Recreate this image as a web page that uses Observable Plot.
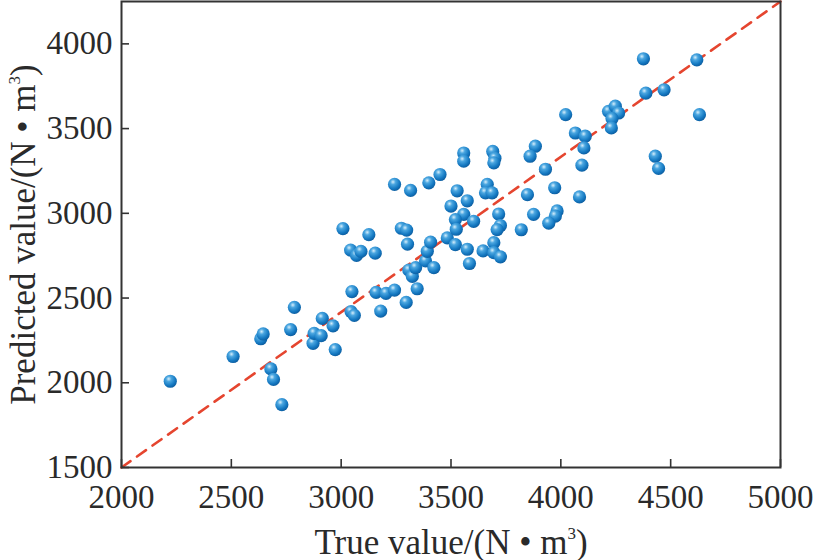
<!DOCTYPE html>
<html>
<head>
<meta charset="utf-8">
<script src="https://cdn.jsdelivr.net/npm/d3@7"></script>
<script src="https://cdn.jsdelivr.net/npm/@observablehq/plot@0.6"></script>
<style>
  html, body { margin: 0; padding: 0; background: #fff; }
  #chart { width: 815px; height: 560px; }
</style>
</head>
<body>
<div id="chart"></div>
<script>
// True values (x) and predicted values (y)
const trueValues = [
  2222, 2508, 2634, 2645, 2680, 2692, 2730, 2770, 2787, 2872,
  2877, 2909, 2914, 2963, 2973, 3008, 3043, 3070, 3090, 3126,
  3155, 3049, 3045, 3060, 3159, 3204, 3243, 3180, 3243, 3316,
  3274, 3298, 3302, 3296, 3346, 3308, 3324, 3339, 3384, 3392,
  3407, 3422, 3399, 3450, 3483, 3520, 3558, 3558, 3528, 3574,
  3500, 3558, 3520, 3603, 3524, 3574, 3584, 3646, 3695, 3695,
  3725, 3665, 3657, 3687, 3690, 3700, 3695, 3717, 3725, 3710,
  3820, 3848, 3876, 3983, 3975, 3945, 3884, 3860, 3930, 3972,
  4022, 4066, 4111, 4105, 4096, 4085, 4217, 4248, 4263, 4233,
  4230, 4376, 4619, 4387, 4470, 4631, 4430, 4445
];
const predictedValues = [
  2009, 2155, 2260, 2288, 2082, 2020, 1871, 2314, 2445, 2233,
  2292, 2278, 2380, 2336, 2196, 2910, 2783, 2752, 2775, 2874,
  2765, 2538, 2420, 2398, 2533, 2528, 2547, 2423, 3171, 3135,
  2912, 2901, 2818, 2474, 2555, 2665, 2628, 2680, 2719, 2776,
  2830, 2680, 3180, 3229, 2855, 2815, 3356, 3308, 3133, 3074,
  3043, 2994, 2963, 2953, 2906, 2788, 2704, 2778, 2827, 2768,
  2743, 3171, 3121, 3121, 3365, 3325, 3298, 2996, 2928, 2904,
  2903, 3110, 2994, 3014, 2984, 2942, 3396, 3337, 3260, 3151,
  3582, 3474, 3455, 3386, 3284, 3097, 3602, 3632, 3592, 3559,
  3504, 3912, 3906, 3709, 3729, 3582, 3337, 3265
];
// Reference (ideal) line endpoints
const refLineX = [2000, 5000];
const refLineY = [1500, 4250];
// Tick values
const xTicks = [2000, 2500, 3000, 3500, 4000, 4500, 5000];
const yTicks = [1500, 2000, 2500, 3000, 3500, 4000];
// Axis titles
const xTitle = "True value/(N • m³)";
const yTitle = "Predicted value/(N • m³)";

const points = trueValues.map((t, i) => ({t, p: predictedValues[i]}));
const refLine = refLineX.map((x, i) => ({x, y: refLineY[i]}));

const font = "'Liberation Serif', 'Times New Roman', serif";

const chart = Plot.plot({
  width: 815,
  height: 560,
  marginLeft: 121,
  marginRight: 35,
  marginTop: 1,
  marginBottom: 93,
  style: {fontFamily: font, color: "#2a2a2a", background: "#fff", overflow: "visible"},
  x: {domain: [2000, 5000]},
  y: {domain: [1500, 4250]},
  marks: [
    Plot.line(refLine, {x: "x", y: "y", stroke: "#e5452f", strokeWidth: 2.6, strokeDasharray: "11,8"}),
    Plot.dot(points, {x: "t", y: "p", r: 6.6, fill: "url(#ball)", stroke: "none"}),
    Plot.frame({stroke: "#333", strokeWidth: 2}),
    Plot.axisX({
      ticks: xTicks, tickFormat: d => String(d), tickSize: -8, tickPadding: 25,
      fontSize: 33, stroke: "#333", strokeWidth: 1.6,
      label: xTitle, labelAnchor: "center", labelOffset: 86, labelArrow: "none"
    }),
    Plot.axisY({
      ticks: yTicks, tickFormat: d => String(d), tickSize: -8, tickPadding: 17,
      fontSize: 33, stroke: "#333", strokeWidth: 1.6,
      label: yTitle, labelAnchor: "center", labelOffset: 111, labelArrow: "none"
    })
  ]
});

d3.select(chart).insert("defs", ":first-child").html(`
  <radialGradient id="ball" cx="0.38" cy="0.32" r="0.72">
    <stop offset="0" stop-color="#d6eefb"/>
    <stop offset="0.28" stop-color="#4aa6e0"/>
    <stop offset="0.7" stop-color="#1579c2"/>
    <stop offset="1" stop-color="#0b5a9c"/>
  </radialGradient>`);

// larger axis titles with a small raised superscript
d3.select(chart).selectAll("g[aria-label='x-axis label'] text, g[aria-label='y-axis label'] text")
  .attr("font-size", 35)
  .each(function() {
    const t = d3.select(this);
    const s = t.text();
    const i = s.indexOf("³");
    if (i < 0) return;
    t.text(null);
    t.append("tspan").text(s.slice(0, i));
    t.append("tspan").attr("font-size", 17).attr("dy", "-15").text("3");
    t.append("tspan").attr("dy", "15").text(s.slice(i + 1));
  });

document.getElementById("chart").appendChild(chart);
</script>
</body>
</html>
